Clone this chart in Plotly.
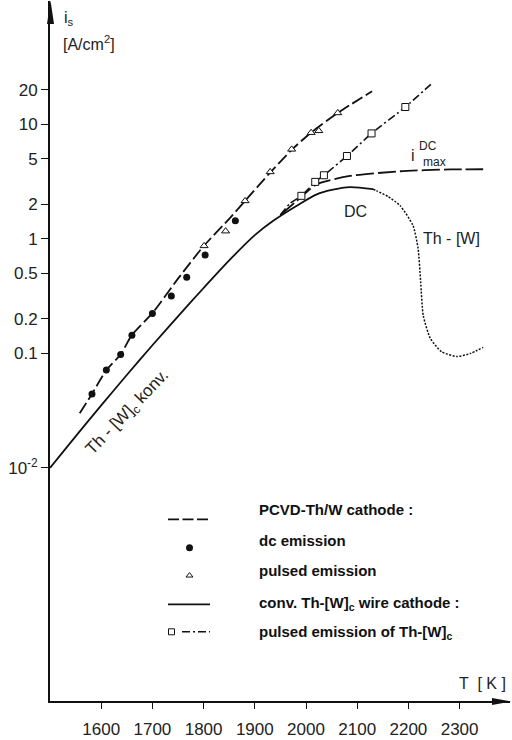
import plotly.graph_objects as go

# ---------------- data ----------------
T_conv = [1500, 1550, 1600, 1650, 1700, 1750, 1800, 1850, 1900, 1936, 1982, 2021, 2050, 2086, 2131]
i_conv = [0.0100, 0.0189, 0.0352, 0.0648, 0.118, 0.211, 0.373, 0.65, 1.08, 1.44, 1.95, 2.45, 2.68, 2.84, 2.72]

T_decay = [2131, 2138, 2160, 2184, 2209, 2219, 2224, 2229, 2243, 2265, 2295, 2321, 2346]
i_decay = [2.72, 2.63, 2.35, 1.95, 1.31, 0.82, 0.42, 0.215, 0.135, 0.1035, 0.094, 0.10, 0.113]

T_imax = [1950, 1982, 2021, 2086, 2184, 2282, 2346]
i_imax = [1.62, 2.15, 3.0, 3.55, 3.9, 4.05, 4.06]

T_pcvd = [1558, 1582, 1610, 1638, 1660, 1700, 1750, 1800, 1850, 1881, 1930, 1972, 2010, 2062, 2129]
i_pcvd = [0.030, 0.0443, 0.0716, 0.098, 0.145, 0.225, 0.45, 0.865, 1.5, 2.15, 3.8, 6.0, 8.5, 12.6, 19.5]

T_dc = [1582, 1610, 1638, 1660, 1700, 1737, 1767, 1803, 1862]
i_dc = [0.0443, 0.0716, 0.098, 0.144, 0.223, 0.318, 0.464, 0.726, 1.44]

T_pulsed = [1801, 1843, 1881, 1930, 1972, 2010, 2025, 2062]
i_pulsed = [0.87, 1.17, 2.15, 3.85, 6.06, 8.47, 8.8, 12.6]

T_pw_line = [1950, 1969, 1991, 2018, 2035, 2080, 2128, 2194, 2248]
i_pw_line = [1.62, 2.05, 2.38, 3.15, 3.6, 5.3, 8.35, 14.2, 23.3]
T_pw = [1991, 2018, 2035, 2080, 2128, 2194]
i_pw = [2.38, 3.15, 3.6, 5.3, 8.35, 14.2]

x_ticks = [1600, 1700, 1800, 1900, 2000, 2100, 2200, 2300]
x_ticklabels = ["1600", "1700", "1800", "1900", "2000", "2100", "2200", "2300"]
y_ticks = [0.01, 0.1, 0.2, 0.5, 1, 2, 5, 10, 20]
y_ticklabels = ["10<sup>-2</sup>", "0.1", "0.2", "0.5", "1", "2", "5", "10", "20"]

# ---------------- layout geometry ----------------
W, H = 512, 740
ML, MR, MT, MB = 50, 2, 1, 36
PW, PH = W - ML - MR, H - MT - MB
PX_PER_K = 0.512
PX_PER_DEC = 115.0
x_range = [1500, 1500 + PW / PX_PER_K]
y_range = [-4.035, -4.035 + PH / PX_PER_DEC]

TICKFONT = dict(family="Liberation Sans Narrow, Liberation Sans, Arial", size=17, color="#222")
LABFONT = dict(family="Liberation Sans, Arial", size=16, color="#222")
LEGFONT = dict(family="Liberation Sans, Arial", size=15, color="#111")
BLACK = "#111"

fig = go.Figure()

# conv. Th-[W]c solid curve
fig.add_trace(go.Scatter(x=T_conv, y=i_conv, mode="lines", line=dict(color=BLACK, width=1.8, shape="spline", smoothing=0.8), hoverinfo="skip"))
# dotted decay Th-[W]
fig.add_trace(go.Scatter(x=T_decay, y=i_decay, mode="lines", line=dict(color=BLACK, width=1.5, dash="2px,1.5px", shape="spline", smoothing=0.6), hoverinfo="skip"))
# i_max DC long-dash
fig.add_trace(go.Scatter(x=T_imax, y=i_imax, mode="lines", line=dict(color=BLACK, width=1.8, dash="18px,4px", shape="spline", smoothing=0.6), hoverinfo="skip"))
# pulsed emission of Th-[W]c dash-dot
fig.add_trace(go.Scatter(x=T_pw_line, y=i_pw_line, mode="lines", line=dict(color=BLACK, width=1.6, dash="8px,3px,2px,3px", shape="spline", smoothing=0.6), hoverinfo="skip"))
# PCVD dashed
fig.add_trace(go.Scatter(x=T_pcvd, y=i_pcvd, mode="lines", line=dict(color=BLACK, width=1.8, dash="12px,4px", shape="spline", smoothing=0.6), hoverinfo="skip"))
# markers
fig.add_trace(go.Scatter(x=T_dc, y=i_dc, mode="markers", marker=dict(symbol="circle", size=7, color=BLACK), hoverinfo="skip"))
fig.add_trace(go.Scatter(x=T_pulsed, y=i_pulsed, mode="markers", marker=dict(symbol="triangle-up", size=7, color="white", line=dict(color=BLACK, width=1)), hoverinfo="skip"))
fig.add_trace(go.Scatter(x=T_pw, y=i_pw, mode="markers", marker=dict(symbol="square", size=7, color="white", line=dict(color=BLACK, width=1)), hoverinfo="skip"))

# ---------------- legend samples on a pixel overlay axis ----------------
def lg(x, y, **kw):
    fig.add_trace(go.Scatter(x=x, y=y, xaxis="x2", yaxis="y2", hoverinfo="skip", **kw))

lg([168, 210], [521.5, 521.5], mode="lines", line=dict(color=BLACK, width=1.8, dash="11px,3.5px"))
lg([189.5], [550], mode="markers", marker=dict(symbol="circle", size=7, color=BLACK))
lg([189.5], [578], mode="markers", marker=dict(symbol="triangle-up", size=6, color="white", line=dict(color=BLACK, width=1)))
lg([168, 210], [607, 607], mode="lines", line=dict(color=BLACK, width=1.8))
lg([182, 210], [634.5, 634.5], mode="lines", line=dict(color=BLACK, width=1.6, dash="8px,3px,2px,3px"))
lg([171.5], [634.5], mode="markers", marker=dict(symbol="square", size=6, color="white", line=dict(color=BLACK, width=1)))

ann = []
def txt(x, y, s, font, xanchor="center", **kw):
    ann.append(dict(x=x, y=y, xref="x2", yref="y2", text=s, showarrow=False, font=font, xanchor=xanchor, yanchor="middle", **kw))

legend_items = ["PCVD-Th/W cathode :", "dc emission", "pulsed emission",
                "conv. Th-[W]<sub>c</sub> wire cathode :", "pulsed emission of Th-[W]<sub>c</sub>"]
legend_y = [512, 542.5, 573, 606, 635]
for s, yy in zip(legend_items, legend_y):
    txt(257, yy, "<b>" + s + "</b>", LEGFONT, xanchor="left")

# axis titles
txt(62, 19, "i<sub>s</sub>", LABFONT, xanchor="left")
txt(61, 43, "[A/cm<sup>2</sup>]", LABFONT, xanchor="left")
txt(457, 686, "T  [ K ]", LABFONT, xanchor="left")
# curve labels
txt(355, 212, "DC", LABFONT)
txt(451, 240, "Th - [W]", LABFONT)
txt(412.5, 156, "i", LABFONT)
txt(428, 147, "DC", dict(LABFONT, size=12))
txt(434.5, 163, "max", dict(LABFONT, size=12))
txt(128, 415, "Th - [W]<sub>c</sub> konv.", dict(LABFONT, size=17), textangle=-46)

# ---------------- arrowheads on the axes ----------------
def px(xp):
    return (xp - ML) / PW
def py(yp):
    return (H - MB - yp) / PH

shapes = [
    dict(type="path", xref="paper", yref="paper", fillcolor=BLACK, line=dict(width=0),
         path=f"M {px(50.5)},{py(0.5)} L {px(47)},{py(24)} L {px(54)},{py(24)} Z"),
    dict(type="path", xref="paper", yref="paper", fillcolor=BLACK, line=dict(width=0),
         path=f"M {px(511)},{py(704.5)} L {px(492)},{py(701)} L {px(492)},{py(708)} Z"),
]

fig.update_layout(
    width=W, height=H,
    margin=dict(l=ML, r=MR, t=MT, b=MB),
    paper_bgcolor="white", plot_bgcolor="white",
    showlegend=False,
    xaxis=dict(range=x_range, tickvals=x_ticks, ticktext=x_ticklabels, ticks="outside", ticklen=6,
               tickwidth=1.3, tickcolor=BLACK, showline=True, linecolor=BLACK, linewidth=1.8,
               showgrid=False, zeroline=False, tickfont=TICKFONT, fixedrange=True,
               ticklabelstandoff=6),
    yaxis=dict(type="log", range=y_range, tickvals=y_ticks, ticktext=y_ticklabels, ticks="outside",
               ticklen=7, tickwidth=1.3, tickcolor=BLACK, showline=True, linecolor=BLACK, linewidth=1.8,
               showgrid=False, zeroline=False, tickfont=TICKFONT, fixedrange=True),
    xaxis2=dict(range=[ML, W - MR], overlaying="x", visible=False, fixedrange=True),
    yaxis2=dict(range=[H - MB, MT], overlaying="y", visible=False, fixedrange=True),
    annotations=ann,
    shapes=shapes,
)

fig.write_html("out.html")
